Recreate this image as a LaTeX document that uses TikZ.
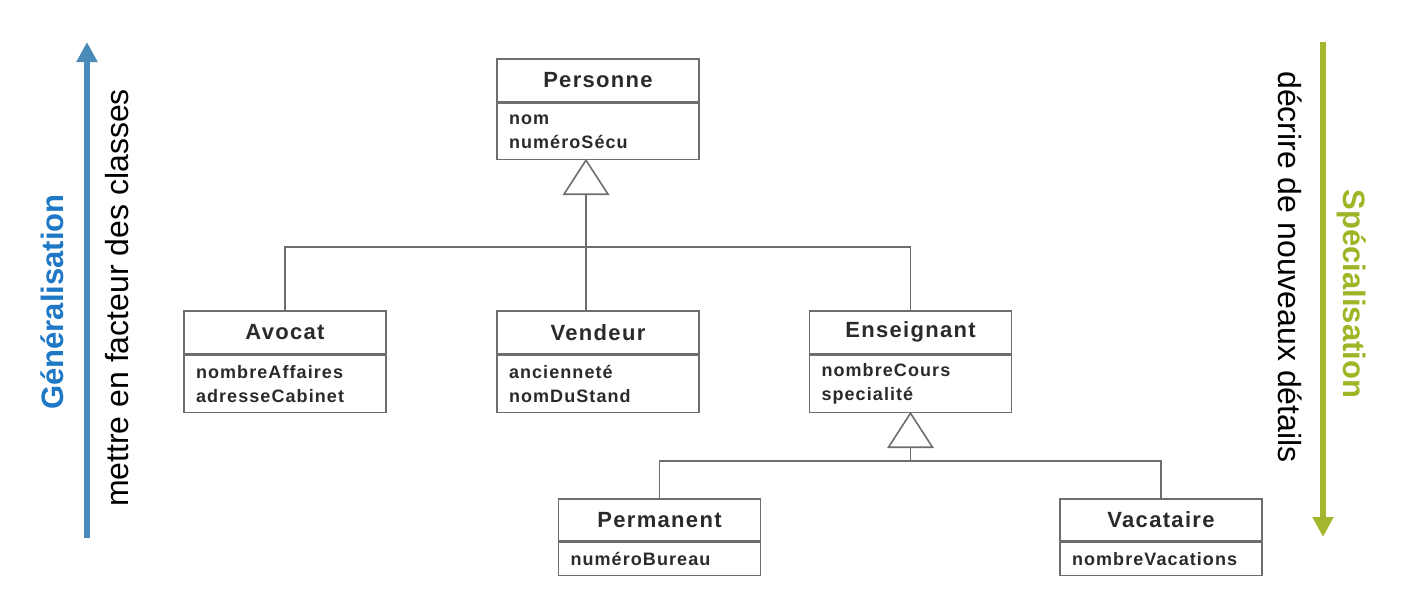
\documentclass[tikz,border=0pt]{standalone}
\usepackage{fontspec}
\setmainfont{Liberation Sans}
\newfontfamily\umlfont[LetterSpace=6]{Liberation Sans}
\usetikzlibrary{arrows.meta}
\definecolor{boxline}{HTML}{6E6E6E}
\definecolor{umltext}{HTML}{2A2A2A}
\definecolor{genarrow}{HTML}{4A8BB9}
\definecolor{gentext}{HTML}{1F78C6}
\definecolor{specarrow}{HTML}{A4B52E}
\definecolor{spectext}{HTML}{9CB626}
\begin{document}
\begin{tikzpicture}[x=1pt,y=-1pt,
  umltitle/.style={draw=boxline, line width=1.6pt, minimum width=202pt, minimum height=43pt,
    inner sep=0pt, anchor=north, text=umltext, font=\umlfont\bfseries\fontsize{22}{26}\selectfont},
  umlattr/.style={draw=boxline, line width=1.6pt, minimum width=202pt, minimum height=57pt,
    inner sep=0pt, text width=178pt, align=left, anchor=north, text=umltext,
    font=\umlfont\bfseries\fontsize{18}{24}\selectfont},
  link/.style={draw=boxline, line width=1.6pt},
  sidetext/.style={font=\fontsize{32}{38}\selectfont, inner sep=0pt},
  sidebold/.style={font=\bfseries\fontsize{31}{37}\selectfont, inner sep=0pt}
]
\useasboundingbox (0,0) rectangle (1406,592);

% classes
\node[umltitle] (pt) at (598,58) {Personne};
\node[umlattr, minimum height=56pt] (pa) at (pt.south) {nom\\numéroSécu};

\node[umltitle] (at) at (285,310) {Avocat};
\node[umlattr] (aa) at (at.south) {nombreAffaires\\adresseCabinet};

\node[umltitle] (vt) at (598,310) {Vendeur};
\node[umlattr] (va) at (vt.south) {ancienneté\\nomDuStand};

\node[umltitle] (et) at (910.5,310) {Enseignant};
\node[umlattr] (ea) at (et.south) {nombreCours\\specialité};

\node[umltitle, minimum height=42pt] (pmt) at (659.5,498) {Permanent};
\node[umlattr, minimum height=33pt] (pma) at (pmt.south) {numéroBureau};

\node[umltitle, minimum height=42pt] (vct) at (1161,498) {Vacataire};
\node[umlattr, minimum height=33pt] (vca) at (vct.south) {nombreVacations};

% generalisation Personne
\coordinate (tri1) at ([xshift=-12pt]pa.south);
\draw[link, fill=white] (tri1) -- ++(-22,34) -- ++(44,0) -- cycle;
\coordinate (tri1b) at ([yshift=-34pt]tri1);
\coordinate (bar1) at (tri1 |- 0,247);
\draw[link] (tri1b) -- (bar1);
\draw[link] (bar1) -| (at.north);
\draw[link] (bar1) -| (et.north);
\draw[link] (bar1) -- (vt.north -| bar1);

% generalisation Enseignant
\coordinate (tri2) at (ea.south);
\draw[link, fill=white] (tri2) -- ++(-22,34) -- ++(44,0) -- cycle;
\coordinate (tri2b) at ([yshift=-34pt]tri2);
\coordinate (bar2) at (tri2 |- 0,461);
\draw[link] (tri2b) -- (bar2);
\draw[link] (bar2) -| (pmt.north);
\draw[link] (bar2) -| (vct.north);

% side arrows
\coordinate (g0) at (87,538);
\coordinate (g1) at (87,42);
\draw[genarrow, line width=6pt, -{Triangle[width=20pt,length=20pt]}] (g0) -- (g1);
\node[sidebold, text=gentext, rotate=90] (gen) at (52,302) {Généralisation};
\node[sidetext, rotate=90] (gent) at (117,298) {mettre en facteur des classes};

\coordinate (s0) at (1323,42);
\coordinate (s1) at (1323,537);
\draw[specarrow, line width=6pt, -{Triangle[width=20pt,length=20pt]}] (s0) -- (s1);
\node[sidebold, text=spectext, rotate=-90] (spec) at (1352,294) {Spécialisation};
\node[sidetext, rotate=-90] (spect) at (1290,267) {décrire de nouveaux détails};
\end{tikzpicture}
\end{document}
